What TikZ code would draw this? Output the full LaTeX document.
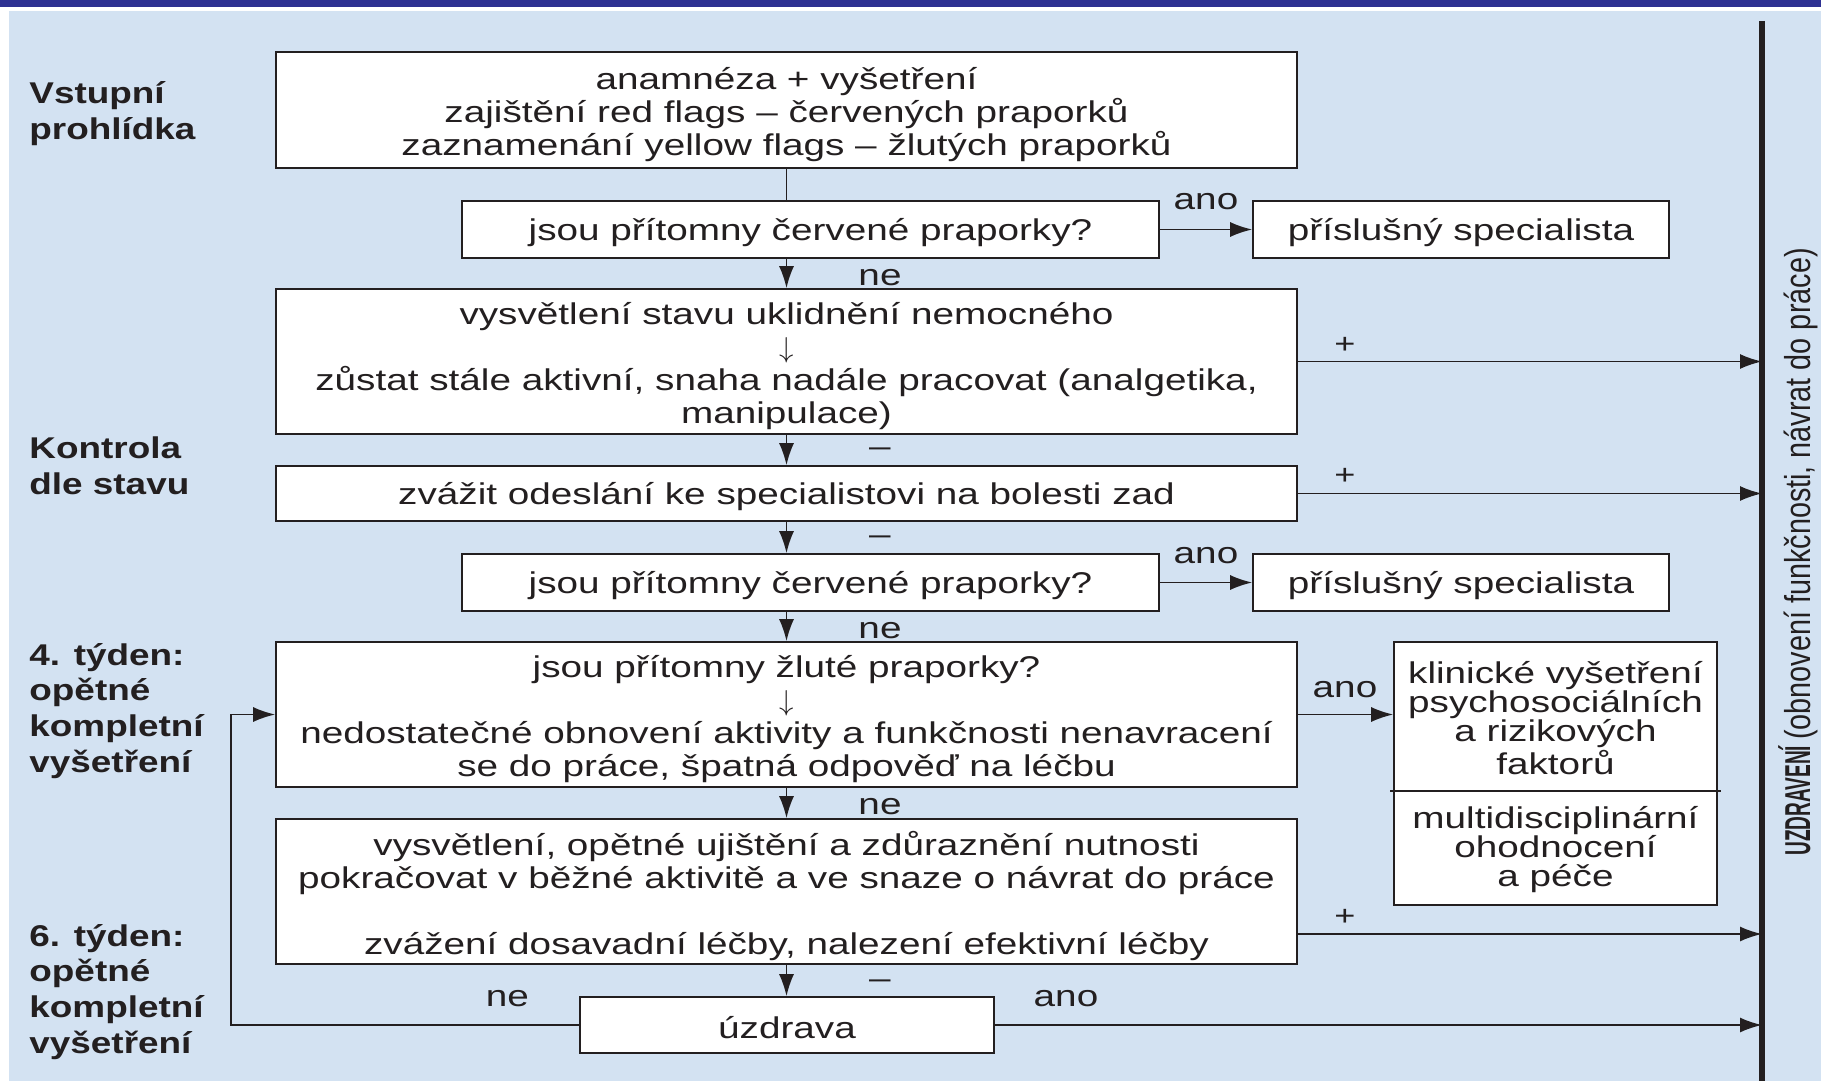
\documentclass[tikz,border=0pt]{standalone}
\usepackage{fontspec}
\usepackage{graphicx}
\setmainfont{Liberation Sans}
\newfontfamily\boxfont{Liberation Sans}[FakeStretch=1.29]
\newfontfamily\labfont{Liberation Sans}[FakeStretch=1.23]
\usetikzlibrary{arrows.meta,calc}
\definecolor{bgblue}{RGB}{211,226,242}
\definecolor{banner}{RGB}{46,49,146}
\definecolor{ink}{RGB}{35,31,32}
\newcommand{\dnarrow}{{\fontsize{14pt}{16.5pt}\selectfont$\downarrow$}}
\begin{document}
\begin{tikzpicture}[x=0.5pt,y=-0.5pt,
  box/.style={draw=ink, line width=0.8pt, fill=white, inner sep=0pt},
  bt/.style={inner sep=0pt, align=center, text=ink,
    font=\boxfont\fontsize{15pt}{16.5pt}\selectfont},
  flow/.style={draw=ink, line width=0.9pt},
  arr/.style={flow, -{Latex[length=11pt,width=7.5pt]}},
  lbl/.style={font=\boxfont\fontsize{15pt}{16.5pt}\selectfont, text=ink, inner sep=0pt},
  pm/.style={font=\boxfont\fontsize{14pt}{14pt}\selectfont, text=ink, inner sep=0pt},
  side/.style={font=\labfont\bfseries\fontsize{15pt}{17.9pt}\selectfont, text=ink,
    align=left, anchor=west, inner sep=0pt}
]
\useasboundingbox (0,0) rectangle (1821,1081);
% background
\fill[white] (0,0) rectangle (1821,1081);
\fill[bgblue] (9,11) rectangle (1821,1081);
\fill[banner] (0,0) rectangle (1821,7);

% main column boxes
\node[box, minimum width=510.5pt, minimum height=58pt] (b1) at (786.5,110) {};
\node[box, minimum width=348.5pt, minimum height=28.5pt] (q1) at (810.5,229.5) {};
\node[box, minimum width=208pt, minimum height=28.5pt] (s1) at (1461,229.5) {};
\node[box, minimum width=510.5pt, minimum height=72.5pt] (b3) at (786.5,361.5) {};
\node[box, minimum width=510.5pt, minimum height=27.5pt] (b4) at (786.5,493.5) {};
\node[box, minimum width=348.5pt, minimum height=28.5pt] (q2) at (810.5,582.5) {};
\node[box, minimum width=208pt, minimum height=28.5pt] (s2) at (1461,582.5) {};
\node[box, minimum width=510.5pt, minimum height=72.5pt] (b5) at (786.5,714.5) {};
\node[box, minimum width=510.5pt, minimum height=72.5pt] (b6) at (786.5,891.5) {};
\node[box, minimum width=207pt, minimum height=28pt] (u) at (787,1025) {};
\node[box, minimum width=161.5pt, minimum height=131.5pt] (r) at (1555.5,773.5) {};

% box texts
\node[bt] (b1t) at ([yshift=-2.5pt]b1.center)
  {anamnéza + vyšetření\\zajištění red flags – červených praporků\\zaznamenání yellow flags – žlutých praporků};
\node[bt] (q1t) at ([yshift=-1.5pt]q1.center) {jsou přítomny červené praporky?};
\node[bt] (s1t) at ([yshift=-1.5pt]s1.center) {příslušný specialista};
\node[bt] (b3t) at ([yshift=-2.5pt]b3.center)
  {vysvětlení stavu uklidnění nemocného\\\dnarrow\\zůstat stále aktivní, snaha nadále pracovat (analgetika,\\manipulace)};
\node[bt] (b4t) at ([yshift=-1.5pt]b4.center) {zvážit odeslání ke specialistovi na bolesti zad};
\node[bt] (q2t) at ([yshift=-1.5pt]q2.center) {jsou přítomny červené praporky?};
\node[bt] (s2t) at ([yshift=-1.5pt]s2.center) {příslušný specialista};
\node[bt] (b5t) at ([yshift=-2.5pt]b5.center)
  {jsou přítomny žluté praporky?\\\dnarrow\\nedostatečné obnovení aktivity a funkčnosti nenavracení\\se do práce, špatná odpověď na léčbu};
\node[bt] (b6t) at ([yshift=-2.5pt]b6.center)
  {vysvětlení, opětné ujištění a zdůraznění nutnosti\\pokračovat v běžné aktivitě a ve snaze o návrat do práce\\[16.5pt]zvážení dosavadní léčby, nalezení efektivní léčby};
\node[bt] (ut) at ([yshift=-1.5pt]u.center) {úzdrava};

% right box
\coordinate (divy) at (0,791);
\draw[ink, line width=0.8pt] ($(r.west |- divy)+(-3,0)$) -- ($(r.east |- divy)+(3,0)$);
\node[bt, font=\boxfont\fontsize{15pt}{14.5pt}\selectfont] (rt) at (1555.5,718)
  {klinické vyšetření\\psychosociálních\\a rizikových\\faktorů};
\node[bt, font=\boxfont\fontsize{15pt}{14.5pt}\selectfont] (rb) at (1555.5,850)
  {multidisciplinární\\ohodnocení\\a péče};

% recovery bar
\coordinate (bartop) at (1762,21);
\coordinate (barbot) at (1762,1081);
\draw[ink, line width=2.6pt] (bartop) -- (barbot);
\node[rotate=90, inner sep=0pt, text=ink, font=\fontsize{18pt}{18pt}\selectfont] (uzd) at (1798,552)
  {\scalebox{0.53}[1]{\bfseries UZDRAVENÍ}\,\scalebox{0.8}[1]{(obnovení funkčnosti, návrat do práce)}};

% connectors
\draw[flow] (b1.south) -- (b1.south |- q1.north);
\draw[arr] (q1.south -| b1.south) -- (b3.north);
\draw[arr] (q1.east) -- (s1.west);
\draw[arr] (b3.south) -- (b4.north);
\draw[arr] (b4.south) -- (b4.south |- q2.north);
\draw[arr] (q2.east) -- (s2.west);
\draw[arr] (q2.south -| b4.south) -- (b5.north);
\draw[arr] (b5.south) -- (b6.north);
\draw[arr] (b6.south) -- (b6.south |- u.north);
\draw[arr] (b5.east) -- (b5.east -| r.west);
\draw[arr] (b3.east) -- (b3.east -| bartop);
\draw[arr] (b4.east) -- (b4.east -| bartop);
\draw[arr] ([yshift=-21.25pt]b6.east) -- ([yshift=-21.25pt]b6.east -| bartop);
\draw[arr] (u.east) -- (u.east -| bartop);
\coordinate (loopx) at (231,1025);
\draw[arr] (u.west) -- (loopx) |- (b5.west);

% connector labels
\node[lbl] (a1) at (1206,202) {ano};
\node[lbl] (n1) at (880,278) {ne};
\node[pm] (p1) at (1345,345) {+};
\node[lbl] (m1) at (880,452) {–};
\node[pm] (p2) at (1345,476) {+};
\node[lbl] (m2) at (880,540) {–};
\node[lbl] (a2) at (1206,556) {ano};
\node[lbl] (n2) at (880,631) {ne};
\node[lbl] (a3) at (1345,690) {ano};
\node[lbl] (n3) at (880,807) {ne};
\node[pm] (p3) at (1345,917) {+};
\node[lbl] (m3) at (880,984) {–};
\node[lbl] (n4) at (507.5,999) {ne};
\node[lbl] (a4) at (1066,999) {ano};

% side labels
\node[side] (l1) at (29,114) {Vstupní\\prohlídka};
\node[side] (l2) at (29,465.5) {Kontrola\\dle stavu};
\node[side] (l3) at (29,711) {4. týden:\\opětné\\kompletní\\vyšetření};
\node[side] (l4) at (29,992) {6. týden:\\opětné\\kompletní\\vyšetření};
\end{tikzpicture}
\end{document}
